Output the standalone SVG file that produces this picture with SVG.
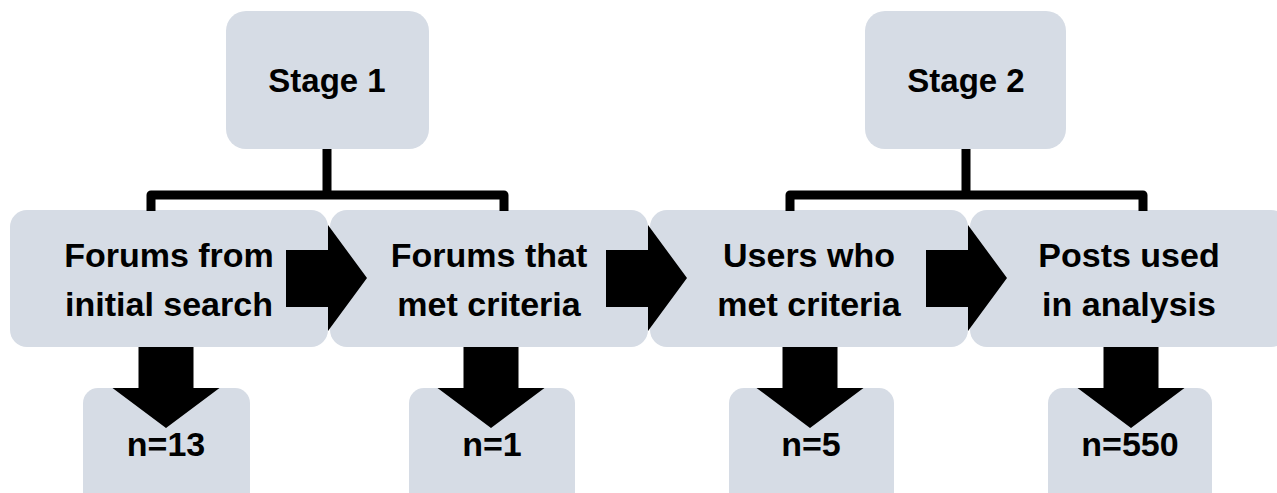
<svg xmlns="http://www.w3.org/2000/svg" width="1277" height="493" viewBox="0 0 1277 493">
<style>
  .box { fill: #D6DCE5; }
  .lbl { font-family: "Liberation Sans", Arial, sans-serif; font-weight: bold; font-size: 34px; fill: #000; text-anchor: middle; }
  .stg { font-size: 33px; }
  .bracket { fill: none; stroke: #000; stroke-width: 9; stroke-linejoin: round; }
  .arrow { fill: #000; }
</style>
<rect width="1277" height="493" fill="#fff"/>

<g id="stage1">
  <rect class="box" x="226" y="11" width="203" height="138" rx="20"/>
  <text class="lbl stg" x="327" y="92">Stage 1</text>
</g>
<g id="stage2">
  <rect class="box" x="865" y="11" width="201" height="138" rx="20"/>
  <text class="lbl stg" x="966" y="92">Stage 2</text>
</g>

<g id="forums-initial">
  <rect class="box" x="10" y="210" width="318" height="137" rx="17"/>
  <text class="lbl" x="169" y="267">Forums from</text>
  <text class="lbl" x="169" y="316">initial search</text>
</g>
<g id="forums-criteria">
  <rect class="box" x="330" y="210" width="318" height="137" rx="17"/>
  <text class="lbl" x="489" y="267">Forums that</text>
  <text class="lbl" x="489" y="316">met criteria</text>
</g>
<g id="users-criteria">
  <rect class="box" x="650" y="210" width="318" height="137" rx="17"/>
  <text class="lbl" x="809" y="267">Users who</text>
  <text class="lbl" x="809" y="316">met criteria</text>
</g>
<g id="posts-analysis">
  <rect class="box" x="970" y="210" width="318" height="137" rx="17"/>
  <text class="lbl" x="1129" y="267">Posts used</text>
  <text class="lbl" x="1129" y="316">in analysis</text>
</g>

<g id="n13">
  <rect class="box" x="83" y="388" width="167" height="120" rx="15"/>
  <text class="lbl" x="166" y="456">n=13</text>
</g>
<g id="n1">
  <rect class="box" x="409" y="388" width="166" height="120" rx="15"/>
  <text class="lbl" x="492" y="456">n=1</text>
</g>
<g id="n5">
  <rect class="box" x="729" y="388" width="165" height="120" rx="15"/>
  <text class="lbl" x="811" y="456">n=5</text>
</g>
<g id="n550">
  <rect class="box" x="1048" y="388" width="164" height="120" rx="15"/>
  <text class="lbl" x="1130" y="456">n=550</text>
</g>

<g id="connectors">
  <path class="bracket" d="M327,149 V195 M151,211 V195 H504 V211"/>
  <path class="bracket" d="M966,149 V195 M790,211 V195 H1143 V211"/>
  <polygon class="arrow" points="286,250 328,250 328,225 367,278 328,331 328,307 286,307"/>
  <polygon class="arrow" points="606,250 648,250 648,225 687,278 648,331 648,307 606,307"/>
  <polygon class="arrow" points="926,250 968,250 968,225 1007,278 968,331 968,307 926,307"/>
  <polygon class="arrow" points="138.5,347 193.5,347 193.5,388 219.5,388 166,428 112.5,388 138.5,388"/>
  <polygon class="arrow" points="463.5,347 518.5,347 518.5,388 544.5,388 491,428 437.5,388 463.5,388"/>
  <polygon class="arrow" points="782.5,347 837.5,347 837.5,388 863.5,388 810,428 756.5,388 782.5,388"/>
  <polygon class="arrow" points="1103.5,347 1158.5,347 1158.5,388 1184.5,388 1131,428 1077.5,388 1103.5,388"/>
</g>
</svg>
